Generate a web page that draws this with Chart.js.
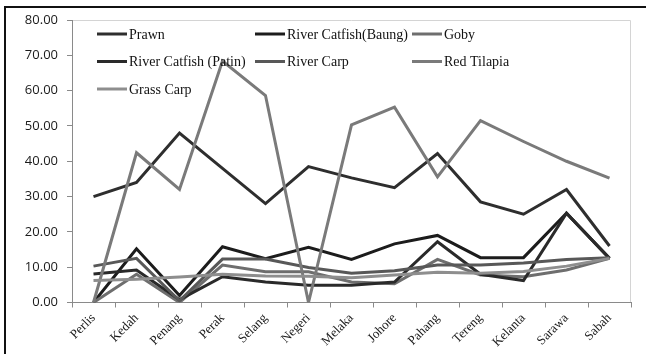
<!DOCTYPE html>
<html>
<head>
<meta charset="utf-8">
<script src="https://cdn.jsdelivr.net/npm/chart.js@4.4.1/dist/chart.umd.min.js"></script>
<style>
  html, body { margin: 0; padding: 0; background: #fff; }
  #wrap { width: 646px; height: 354px; position: relative; }
</style>
</head>
<body>
<div id="wrap"><canvas id="c" width="646" height="354"></canvas></div>
<script>
// States along the x axis
const states = ['Perlis', 'Kedah', 'Penang', 'Perak', 'Selang', 'Negeri', 'Melaka',
                'Johore', 'Pahang', 'Tereng', 'Kelanta', 'Sarawa', 'Sabah'];

// Values per species and state
const prawn      = [30, 34, 48, 38, 28, 38.5, 35.3, 32.5, 42.2, 28.5, 25, 32, 16];
const catfishBaung = [0, 15.2, 2, 15.8, 12.4, 15.6, 12.2, 16.6, 19, 12.7, 12.7, 25.3, 12.5];
const goby       = [0, 8, 0, 10.6, 8.7, 8.7, 5.8, 5.3, 12.2, 7.8, 7.3, 9.2, 12.5];
const catfishPatin = [8.1, 9.2, 0.8, 7.3, 5.8, 4.9, 4.9, 5.8, 17.2, 8, 6.2, 25.3, 12.5];
const riverCarp  = [10.3, 12.5, 0.5, 12.3, 12.3, 9.9, 8.3, 9, 10.6, 10.6, 11.2, 12.2, 12.7];
const redTilapia = [0, 42.4, 32, 68.4, 58.6, 0, 50.3, 55.3, 35.6, 51.5, 45.6, 40, 35.2];
const grassCarp  = [6.2, 6.6, 7.2, 8, 7.5, 7.4, 7, 7.8, 8.6, 8.3, 8.8, 10.3, 12.5];

const seriesNames = ['Prawn', 'River Catfish(Baung)', 'Goby', 'River Catfish (Patin)',
                     'River Carp', 'Red Tilapia', 'Grass Carp'];
const seriesValues = [prawn, catfishBaung, goby, catfishPatin, riverCarp, redTilapia, grassCarp];
const seriesColors = ['#2e2e2e', '#1c1c1c', '#6e6e6e', '#2a2a2a', '#585858', '#7a7a7a', '#8e8e8e'];

// Y axis tick values
const yTicks = [0, 10, 20, 30, 40, 50, 60, 70, 80];

const datasets = seriesNames.map((name, i) => ({
  label: name,
  data: seriesValues[i],
  borderColor: seriesColors[i],
  backgroundColor: seriesColors[i],
  borderWidth: 3,
  pointRadius: 0,
  tension: 0,
  fill: false,
  order: seriesNames.length - i
}));

// Outer frame and light plot-area border
const framePlugin = {
  id: 'frame',
  beforeDraw(chart) {
    const { ctx, chartArea: a } = chart;
    ctx.save();
    ctx.fillStyle = '#fff';
    ctx.fillRect(0, 0, chart.width, chart.height);
    ctx.strokeStyle = '#d4d4d4';
    ctx.lineWidth = 1;
    ctx.beginPath();
    ctx.moveTo(a.left, a.top + 0.5);
    ctx.lineTo(a.right - 0.5, a.top + 0.5);
    ctx.lineTo(a.right - 0.5, a.bottom);
    ctx.stroke();
    ctx.strokeStyle = '#111';
    ctx.lineWidth = 2;
    ctx.beginPath();
    ctx.moveTo(5, chart.height);
    ctx.lineTo(5, 7);
    ctx.lineTo(chart.width, 7);
    ctx.stroke();
    ctx.restore();
  }
};

// Legend laid out in three columns inside the plot area
const insideLegend = {
  id: 'insideLegend',
  afterDatasetsDraw(chart) {
    const { ctx, chartArea: a } = chart;
    const colX = [25, 183, 340];
    const rowY = [14, 41.5, 69];
    ctx.save();
    ctx.font = '14px "Liberation Serif", "Times New Roman", serif';
    ctx.textBaseline = 'middle';
    ctx.fillStyle = '#111';
    chart.data.datasets.forEach((ds, i) => {
      const x = a.left + colX[i % 3];
      const y = a.top + rowY[Math.floor(i / 3)];
      ctx.strokeStyle = ds.borderColor;
      ctx.lineWidth = 3;
      ctx.beginPath();
      ctx.moveTo(x, y);
      ctx.lineTo(x + 30, y);
      ctx.stroke();
      ctx.fillText(ds.label, x + 32, y + 1);
    });
    ctx.restore();
  }
};

new Chart(document.getElementById('c'), {
  type: 'line',
  data: { labels: states, datasets },
  options: {
    responsive: false,
    animation: false,
    layout: { padding: { left: 10, right: 15, top: 20, bottom: 0 } },
    plugins: { legend: { display: false }, tooltip: { enabled: false } },
    scales: {
      x: {
        type: 'category',
        offset: true,
        grid: { offset: true, drawOnChartArea: false, drawTicks: true, tickLength: 5, color: '#8a8a8a' },
        border: { display: true, color: '#8a8a8a', width: 1 },
        ticks: {
          autoSkip: false,
          maxRotation: 45,
          minRotation: 45,
          padding: 3,
          color: '#1a1a1a',
          font: { family: '"Liberation Serif", "Times New Roman", serif', size: 13 }
        },
        afterFit(s) { s.height = 51.5; }
      },
      y: {
        min: 0,
        max: 80,
        afterBuildTicks(s) { s.ticks = yTicks.map(v => ({ value: v })); },
        grid: { drawOnChartArea: false, drawTicks: true, tickLength: 5, color: '#8a8a8a' },
        border: { display: true, color: '#8a8a8a', width: 1 },
        ticks: {
          padding: 9,
          color: '#1a1a1a',
          font: { family: '"Open Sans", sans-serif', size: 13 },
          callback: v => Number(v).toFixed(2)
        },
        afterFit(s) { s.width = 62; }
      }
    }
  },
  plugins: [framePlugin, insideLegend]
});
</script>
</body>
</html>
